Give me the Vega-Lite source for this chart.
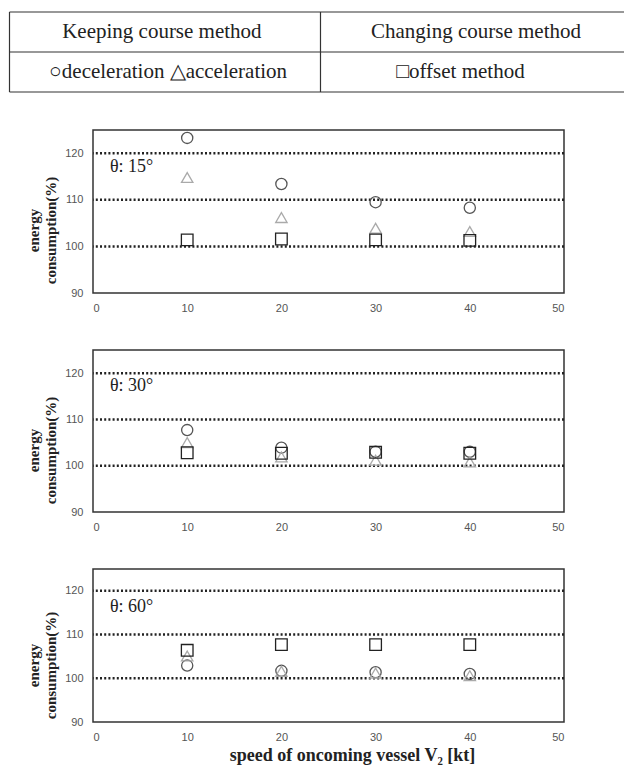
{
  "$schema": "https://vega.github.io/schema/vega-lite/v6.json",
  "padding": {"left": 8, "top": 11, "right": 0, "bottom": 0},
  "spacing": 35,
  "config": {
    "view": {"stroke": "#333", "strokeWidth": 1.5},
    "axis": {"grid": false, "domain": false, "ticks": false, "labelFont": "Liberation Sans", "labelFontSize": 11, "labelColor": "#555", "titleFont": "Liberation Serif", "titleFontWeight": "bold", "titleColor": "#222"},
    "axisX": {"labelPadding": 9, "titleFontSize": 18, "titlePadding": 4},
    "axisY": {"labelPadding": 10, "titleFontSize": 15, "titleLineHeight": 17, "titlePadding": 6},
    "text": {"font": "Liberation Serif"}
  },
  "datasets": {
    "pts": [
      {"angle": 15, "speed": 10, "method": "deceleration", "value": 123.3},
      {"angle": 15, "speed": 20, "method": "deceleration", "value": 113.4},
      {"angle": 15, "speed": 30, "method": "deceleration", "value": 109.5},
      {"angle": 15, "speed": 40, "method": "deceleration", "value": 108.3},
      {"angle": 15, "speed": 10, "method": "acceleration", "value": 114.8},
      {"angle": 15, "speed": 20, "method": "acceleration", "value": 106.2},
      {"angle": 15, "speed": 30, "method": "acceleration", "value": 103.9},
      {"angle": 15, "speed": 40, "method": "acceleration", "value": 103.2},
      {"angle": 15, "speed": 10, "method": "offset", "value": 101.4},
      {"angle": 15, "speed": 20, "method": "offset", "value": 101.6},
      {"angle": 15, "speed": 30, "method": "offset", "value": 101.4},
      {"angle": 15, "speed": 40, "method": "offset", "value": 101.3},
      {"angle": 30, "speed": 10, "method": "deceleration", "value": 107.7},
      {"angle": 30, "speed": 20, "method": "deceleration", "value": 103.9},
      {"angle": 30, "speed": 30, "method": "deceleration", "value": 103.0},
      {"angle": 30, "speed": 40, "method": "deceleration", "value": 103.0},
      {"angle": 30, "speed": 10, "method": "acceleration", "value": 105.0},
      {"angle": 30, "speed": 20, "method": "acceleration", "value": 101.9},
      {"angle": 30, "speed": 30, "method": "acceleration", "value": 101.2},
      {"angle": 30, "speed": 40, "method": "acceleration", "value": 100.8},
      {"angle": 30, "speed": 10, "method": "offset", "value": 102.8},
      {"angle": 30, "speed": 20, "method": "offset", "value": 102.7},
      {"angle": 30, "speed": 30, "method": "offset", "value": 102.9},
      {"angle": 30, "speed": 40, "method": "offset", "value": 102.7},
      {"angle": 60, "speed": 10, "method": "deceleration", "value": 102.9},
      {"angle": 60, "speed": 20, "method": "deceleration", "value": 101.7},
      {"angle": 60, "speed": 30, "method": "deceleration", "value": 101.4},
      {"angle": 60, "speed": 40, "method": "deceleration", "value": 101.0},
      {"angle": 60, "speed": 10, "method": "acceleration", "value": 105.1},
      {"angle": 60, "speed": 20, "method": "acceleration", "value": 101.6},
      {"angle": 60, "speed": 30, "method": "acceleration", "value": 101.2},
      {"angle": 60, "speed": 40, "method": "acceleration", "value": 100.6},
      {"angle": 60, "speed": 10, "method": "offset", "value": 106.4},
      {"angle": 60, "speed": 20, "method": "offset", "value": 107.7},
      {"angle": 60, "speed": 30, "method": "offset", "value": 107.7},
      {"angle": 60, "speed": 40, "method": "offset", "value": 107.7}
    ]
  },
  "vconcat": [
    {
      "width": 471,
      "height": 80,
      "view": {"stroke": null},
      "layer": [
        {
          "data": {"values": [
            {"x": 0, "x2": 1.977, "y": 0, "y2": 0},
            {"x": 0, "x2": 1.977, "y": 1, "y2": 1},
            {"x": 0, "x2": 1.977, "y": 2, "y2": 2},
            {"x": 0, "x2": 0, "y": 0, "y2": 2},
            {"x": 1, "x2": 1, "y": 0, "y2": 2}
          ]},
          "mark": {"type": "rule", "color": "#333", "strokeWidth": 1.2},
          "encoding": {
            "x": {"field": "x", "type": "quantitative", "scale": {"domain": [0.2685, 1.783], "nice": false, "zero": false}, "axis": null},
            "x2": {"field": "x2"},
            "y": {"field": "y", "type": "quantitative", "scale": {"domain": [0, 2], "reverse": true, "nice": false, "zero": false}, "axis": null},
            "y2": {"field": "y2"}
          }
        },
        {
          "data": {"values": [
            {"col": 0.49, "row": 0.5, "label": "Keeping course method"},
            {"col": 1.5, "row": 0.5, "label": "Changing course method"},
            {"col": 0.51, "row": 1.5, "label": "○deceleration   △acceleration"},
            {"col": 1.45, "row": 1.5, "label": "□offset method"}
          ]},
          "mark": {"type": "text", "font": "Liberation Serif", "fontSize": 21, "color": "#222", "baseline": "middle"},
          "encoding": {
            "x": {"field": "col", "type": "quantitative"},
            "y": {"field": "row", "type": "quantitative"},
            "text": {"field": "label"}
          }
        }
      ]
    },
    {
      "width": 471,
      "height": 163,
      "layer": [
        {
          "data": {"values": [{"g": 100}, {"g": 110}, {"g": 120}]},
          "mark": {"type": "rule", "strokeDash": [2, 2.2], "strokeWidth": 2.5, "color": "#222"},
          "encoding": {
            "y": {"field": "g", "type": "quantitative", "scale": {"domain": [90, 125], "nice": false, "zero": false}, "axis": {"values": [90, 100, 110, 120], "title": ["energy", "consumption(%)"], "titleY": 100}}
          }
        },
        {
          "data": {"name": "pts"},
          "transform": [{"filter": "datum.angle == 15"}],
          "mark": {"type": "point", "filled": false, "strokeWidth": 1.3, "opacity": 1},
          "encoding": {
            "x": {"field": "speed", "type": "quantitative", "scale": {"domain": [0, 50], "nice": false, "zero": false}, "axis": {"values": [0, 10, 20, 30, 40, 50], "title": null}},
            "y": {"field": "value", "type": "quantitative", "axis": {"values": [90, 100, 110, 120], "title": ["energy", "consumption(%)"], "titleY": 100}},
            "shape": {"field": "method", "type": "nominal", "scale": {"domain": ["deceleration", "acceleration", "offset"], "range": ["circle", "triangle-up", "square"]}, "legend": null},
            "color": {"field": "method", "type": "nominal", "scale": {"domain": ["deceleration", "acceleration", "offset"], "range": ["#555555", "#aaaaaa", "#222222"]}, "legend": null},
            "size": {"field": "method", "type": "ordinal", "scale": {"domain": ["deceleration", "acceleration", "offset"], "range": [125, 135, 170]}, "legend": null}
          }
        },
        {
          "data": {"values": [{"sx": 1.8, "sy": 117, "t": "θ: 15°"}]},
          "mark": {"type": "text", "align": "left", "baseline": "middle", "font": "Liberation Serif", "fontSize": 18, "color": "#222"},
          "encoding": {
            "x": {"field": "sx", "type": "quantitative"},
            "y": {"field": "sy", "type": "quantitative"},
            "text": {"field": "t"}
          }
        }
      ]
    },
    {
      "width": 471,
      "height": 162,
      "layer": [
        {
          "data": {"values": [{"g": 100}, {"g": 110}, {"g": 120}]},
          "mark": {"type": "rule", "strokeDash": [2, 2.2], "strokeWidth": 2.5, "color": "#222"},
          "encoding": {
            "y": {"field": "g", "type": "quantitative", "scale": {"domain": [90, 125], "nice": false, "zero": false}, "axis": {"values": [90, 100, 110, 120], "title": ["energy", "consumption(%)"], "titleY": 100}}
          }
        },
        {
          "data": {"name": "pts"},
          "transform": [{"filter": "datum.angle == 30"}],
          "mark": {"type": "point", "filled": false, "strokeWidth": 1.3, "opacity": 1},
          "encoding": {
            "x": {"field": "speed", "type": "quantitative", "scale": {"domain": [0, 50], "nice": false, "zero": false}, "axis": {"values": [0, 10, 20, 30, 40, 50], "title": null}},
            "y": {"field": "value", "type": "quantitative", "axis": {"values": [90, 100, 110, 120], "title": ["energy", "consumption(%)"], "titleY": 100}},
            "shape": {"field": "method", "type": "nominal", "scale": {"domain": ["deceleration", "acceleration", "offset"], "range": ["circle", "triangle-up", "square"]}, "legend": null},
            "color": {"field": "method", "type": "nominal", "scale": {"domain": ["deceleration", "acceleration", "offset"], "range": ["#555555", "#aaaaaa", "#222222"]}, "legend": null},
            "size": {"field": "method", "type": "ordinal", "scale": {"domain": ["deceleration", "acceleration", "offset"], "range": [125, 135, 170]}, "legend": null}
          }
        },
        {
          "data": {"values": [{"sx": 1.8, "sy": 117.2, "t": "θ: 30°"}]},
          "mark": {"type": "text", "align": "left", "baseline": "middle", "font": "Liberation Serif", "fontSize": 18, "color": "#222"},
          "encoding": {
            "x": {"field": "sx", "type": "quantitative"},
            "y": {"field": "sy", "type": "quantitative"},
            "text": {"field": "t"}
          }
        }
      ]
    },
    {
      "width": 471,
      "height": 153,
      "layer": [
        {
          "data": {"values": [{"g": 100}, {"g": 110}, {"g": 120}]},
          "mark": {"type": "rule", "strokeDash": [2, 2.2], "strokeWidth": 2.5, "color": "#222"},
          "encoding": {
            "y": {"field": "g", "type": "quantitative", "scale": {"domain": [90, 125], "nice": false, "zero": false}, "axis": {"values": [90, 100, 110, 120], "title": ["energy", "consumption(%)"], "titleY": 96}}
          }
        },
        {
          "data": {"name": "pts"},
          "transform": [{"filter": "datum.angle == 60"}],
          "mark": {"type": "point", "filled": false, "strokeWidth": 1.3, "opacity": 1},
          "encoding": {
            "x": {"field": "speed", "type": "quantitative", "scale": {"domain": [0, 50], "nice": false, "zero": false}, "axis": {"values": [0, 10, 20, 30, 40, 50], "title": "speed of oncoming vessel V₂ [kt]", "titleX": 259}},
            "y": {"field": "value", "type": "quantitative", "axis": {"values": [90, 100, 110, 120], "title": ["energy", "consumption(%)"], "titleY": 96}},
            "shape": {"field": "method", "type": "nominal", "scale": {"domain": ["deceleration", "acceleration", "offset"], "range": ["circle", "triangle-up", "square"]}, "legend": null},
            "color": {"field": "method", "type": "nominal", "scale": {"domain": ["deceleration", "acceleration", "offset"], "range": ["#555555", "#aaaaaa", "#222222"]}, "legend": null},
            "size": {"field": "method", "type": "ordinal", "scale": {"domain": ["deceleration", "acceleration", "offset"], "range": [125, 135, 170]}, "legend": null}
          }
        },
        {
          "data": {"values": [{"sx": 1.8, "sy": 116.3, "t": "θ: 60°"}]},
          "mark": {"type": "text", "align": "left", "baseline": "middle", "font": "Liberation Serif", "fontSize": 18, "color": "#222"},
          "encoding": {
            "x": {"field": "sx", "type": "quantitative"},
            "y": {"field": "sy", "type": "quantitative"},
            "text": {"field": "t"}
          }
        }
      ]
    }
  ]
}
